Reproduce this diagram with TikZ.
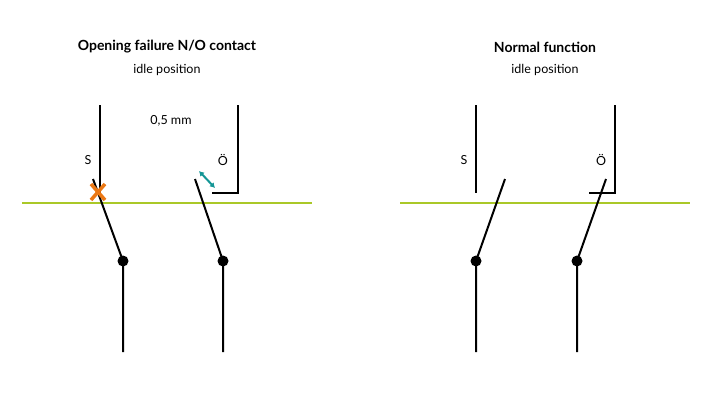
\documentclass[tikz,border=0pt]{standalone}
\usepackage{fontspec}
\setmainfont{Lato}
\usetikzlibrary{arrows.meta}
\definecolor{lgreen}{RGB}{170,200,40}
\definecolor{orng}{RGB}{235,120,20}
\definecolor{teal2}{RGB}{20,150,150}
\begin{document}
\begin{tikzpicture}[x=1pt,y=-1pt,
  wire/.style={line width=2pt,black},
  gline/.style={line width=2pt,lgreen},
  lbl/.style={font=\fontsize{12.5}{14}\selectfont},
  ttl/.style={font=\bfseries\fontsize{14}{16}\selectfont},
  dot/.style={circle,fill=black,inner sep=0pt,minimum size=11pt}]
\useasboundingbox (0,0) rectangle (720,405);
% left
\node[ttl] (t1) at (167,47) {Opening failure N/O contact};
\node[lbl] (s1) at (167,70) {idle position};
\draw[gline] (22,203) -- (312,203);
\coordinate (sa) at (100,105); \coordinate (sb) at (100,195);
\draw[wire] (sa) -- (sb);
\node[dot] (p1) at (123,261) {};
\coordinate (m1) at (93,179); \coordinate (b1) at (123,352);
\draw[wire] (m1) -- (p1.center) -- (b1);
\coordinate (x0) at (98,192);
\draw[orng,line width=3.5pt] ([shift={(-7,-8)}]x0) -- ([shift={(7,8)}]x0);
\draw[orng,line width=3.5pt] ([shift={(7,-8)}]x0) -- ([shift={(-7,8)}]x0);
\coordinate (oa) at (238,105); \coordinate (ob) at (238,193); \coordinate (oc) at (212,193);
\draw[wire] (oa) -- (ob) -- (oc);
\node[dot] (p2) at (223,261) {};
\coordinate (m2) at (195,179); \coordinate (b2) at (223,352);
\draw[wire] (m2) -- (p2.center) -- (b2);
\coordinate (a1) at (199,171); \coordinate (a2) at (215,188);
\draw[teal2,line width=2pt,{Latex[length=5pt,width=6pt]}-{Latex[length=5pt,width=6pt]}] (a1) -- (a2);
\node[lbl] (ls1) at (88,160) {S};
\node[lbl] (lo1) at (223,160) {Ö};
\node[lbl] (mm) at (171,121) {0,5 mm};
% right
\node[ttl] (t2) at (545,47) {Normal function};
\node[lbl] (s2) at (545,70) {idle position};
\draw[gline] (400,203) -- (690,203);
\coordinate (ra) at (476,105); \coordinate (rb) at (476,193);
\draw[wire] (ra) -- (rb);
\node[dot] (p3) at (476,261) {};
\coordinate (m3) at (505,179); \coordinate (b3) at (476,352);
\draw[wire] (m3) -- (p3.center) -- (b3);
\coordinate (qa) at (615,105); \coordinate (qb) at (615,193); \coordinate (qc) at (589,193);
\draw[wire] (qa) -- (qb) -- (qc);
\node[dot] (p4) at (577,261) {};
\coordinate (m4) at (606,179); \coordinate (b4) at (577,352);
\draw[wire] (m4) -- (p4.center) -- (b4);
\node[lbl] (ls2) at (464,160) {S};
\node[lbl] (lo2) at (601,160) {Ö};
\end{tikzpicture}
\end{document}
